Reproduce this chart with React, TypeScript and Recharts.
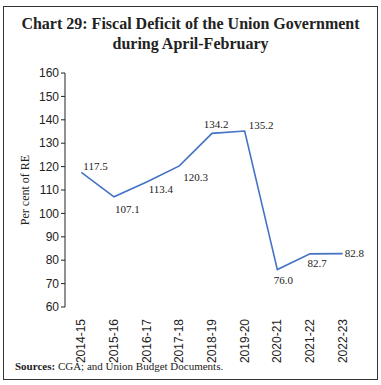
import React from 'react';
import { LineChart, Line, XAxis, YAxis, LabelList } from 'recharts';

const years = ['2014-15', '2015-16', '2016-17', '2017-18', '2018-19', '2019-20', '2020-21', '2021-22', '2022-23'];
const deficit = [117.5, 107.1, 113.4, 120.3, 134.2, 135.2, 76.0, 82.7, 82.8];
const yTicks = [60, 70, 80, 90, 100, 110, 120, 130, 140, 150, 160];
const boundaryTicks = [0, 1, 2, 3, 4, 5, 6, 7, 8, 9];

const data = years.map((y, i) => ({ year: y, value: deficit[i] }));

const labelPlacement: Record<number, { dx: number; dy: number; anchor: 'start' | 'middle' | 'end' }> = {
  0: { dx: 2, dy: -6, anchor: 'start' },
  1: { dx: 1, dy: 12, anchor: 'start' },
  2: { dx: 2, dy: 7, anchor: 'start' },
  3: { dx: 4, dy: 11, anchor: 'start' },
  4: { dx: 4, dy: -9, anchor: 'middle' },
  5: { dx: 4, dy: -6, anchor: 'start' },
  6: { dx: 6, dy: 10, anchor: 'middle' },
  7: { dx: 7, dy: 9, anchor: 'middle' },
  8: { dx: 2, dy: -1, anchor: 'start' },
};

const DataLabel = (props: any) => {
  const { x, y, index, value } = props;
  const p = labelPlacement[index] || { dx: 0, dy: -8, anchor: 'middle' };
  return (
    <text
      x={x + p.dx}
      y={y + p.dy}
      textAnchor={p.anchor}
      dominantBaseline="central"
      fontFamily="'Liberation Serif', serif"
      fontSize={11}
      fill="#222"
    >
      {Number(value).toFixed(1)}
    </text>
  );
};

const XTick = (props: any) => {
  const { x, y, payload } = props;
  return (
    <text
      x={x}
      y={y + 4}
      transform={`rotate(-90, ${x}, ${y + 4})`}
      textAnchor="end"
      dominantBaseline="central"
      fontFamily="'Liberation Sans', sans-serif"
      fontSize={12}
      fill="#222"
    >
      {payload.value}
    </text>
  );
};

export default function App() {
  return (
    <div style={{ position: 'absolute', left: 0, top: 0, width: 381, height: 385, background: '#fff' }}>
      <div
        style={{
          position: 'absolute',
          left: 3,
          top: 6,
          width: 373,
          height: 372,
          border: '1px solid #333',
        }}
      />
      <div
        style={{
          position: 'absolute',
          left: 0,
          top: 14,
          width: 381,
          textAlign: 'center',
          fontFamily: "'Liberation Serif', serif",
          fontWeight: 'bold',
          fontSize: 16,
          lineHeight: '20px',
          color: '#222',
        }}
      >
        Chart 29: Fiscal Deficit of the Union Government
        <br />
        during April-February
      </div>
      <div style={{ position: 'absolute', left: 0, top: 0 }}>
        <LineChart width={381} height={385} data={data} margin={{ top: 73, right: 22, left: 0, bottom: 0 }}>
          <XAxis
            xAxisId="b"
            type="number"
            domain={[0, 9]}
            ticks={boundaryTicks}
            height={0}
            tickFormatter={() => ''}
            axisLine={{ stroke: '#222' }}
            tickLine={{ stroke: '#222' }}
            tickSize={4}
            allowDataOverflow
          />
          <XAxis
            xAxisId="cat"
            dataKey="year"
            scale="band"
            height={78}
            interval={0}
            axisLine={false}
            tickLine={false}
            tick={<XTick />}
          />
          <YAxis
            domain={[60, 160]}
            ticks={yTicks}
            width={65}
            interval={0}
            axisLine={{ stroke: '#222' }}
            tickLine={{ stroke: '#222' }}
            tickSize={4}
            tick={{ fontFamily: "'Liberation Sans', sans-serif", fontSize: 12, fill: '#222' }}
            label={{
              value: 'Per cent of RE',
              angle: -90,
              position: 'insideLeft',
              dx: 20,
              style: { fontFamily: "'Liberation Serif', serif", fontSize: 12, fill: '#222', textAnchor: 'middle' },
            }}
          />
          <Line
            xAxisId="cat"
            dataKey="value"
            stroke="#4472C4"
            strokeWidth={1.6}
            dot={false}
            isAnimationActive={false}
          >
            <LabelList dataKey="value" content={<DataLabel />} />
          </Line>
        </LineChart>
      </div>
      <div
        style={{
          position: 'absolute',
          left: 15,
          top: 360,
          fontFamily: "'Liberation Serif', serif",
          fontSize: 11,
          color: '#222',
        }}
      >
        <b>Sources:</b> CGA; and Union Budget Documents.
      </div>
    </div>
  );
}
